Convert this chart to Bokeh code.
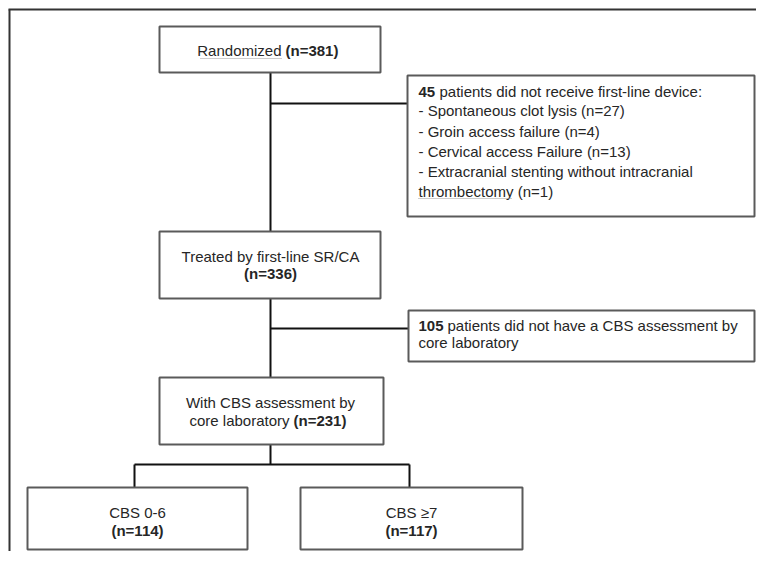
from bokeh.plotting import figure
from bokeh.models import Range1d
from bokeh.core.properties import value
from bokeh.embed import file_html
from bokeh.resources import INLINE

# ---- data (flow counts and labels) ----
randomized_label = "Randomized"
randomized_n = 381
not_received_n = 45
not_received_text = "patients did not receive first-line device:"
reason_labels = ["Spontaneous clot lysis", "Groin access failure",
                 "Cervical access Failure",
                 "Extracranial stenting without intracranial", "thrombectomy"]
reason_counts = [27, 4, 13, None, 1]
treated_label = "Treated by first-line SR/CA"
treated_n = 336
no_cbs_n = 105
no_cbs_lines = ["patients did not have a CBS assessment by", "core laboratory"]
cbs_label_lines = ["With CBS assessment by", "core laboratory"]
cbs_n = 231
group_labels = ["CBS 0-6", "CBS \u22657"]
group_n = [114, 117]

FONT = value("Liberation Sans")
FS = "15px"
TXT = "#262626"
BOX = "#5a5a5a"

p = figure(width=756, height=551, output_backend="svg", toolbar_location=None,
           x_range=Range1d(0, 756), y_range=Range1d(551, 0),
           x_axis_type=None, y_axis_type=None, min_border=0)
p.outline_line_color = None
p.background_fill_color = "white"
p.border_fill_color = "white"


def txt(x, y, s, align="left", bold=False, color=TXT):
    p.text(x=[x], y=[y], text=[s], text_align=align, text_baseline="middle",
           text_font=FONT, text_font_size=FS,
           text_font_style="bold" if bold else "normal", text_color=color)


def box(l, r, t, b):
    p.quad(left=[l], right=[r], top=[t], bottom=[b], fill_color="white",
           line_color=BOX, line_width=2)


# outer frame (top and left edges visible)
p.segment(x0=[8, 9], y0=[9, 9], x1=[756, 9], y1=[9, 551],
          line_color="#333333", line_width=2)

# connectors
p.segment(x0=[270, 270, 270, 270, 270, 134, 134, 409],
          y0=[72, 103, 298, 328, 444, 464, 464, 464],
          x1=[270, 407, 270, 408, 270, 409, 134, 409],
          y1=[231, 103, 377, 328, 464, 464, 487, 487],
          line_color="#111111", line_width=2)

# boxes
box(159, 380, 26, 72)
box(407, 754, 75, 216)
box(159, 380, 231, 298)
box(408, 754, 310, 361)
box(159, 383, 377, 444)
box(27, 247, 487, 549)
box(300, 522, 487, 549)

# Randomized
txt(281, 50, randomized_label, align="right")
txt(285, 50, f"(n={randomized_n})", bold=True)
p.line(x=[200, 281], y=[58, 58], line_color="#9a9a9a", line_width=1, line_dash="1 1")

# exclusion box 1
txt(418, 91, str(not_received_n), bold=True)
txt(439, 91, not_received_text)
ys = [110, 131, 151, 171, 191]
for i, (lab, c) in enumerate(zip(reason_labels, reason_counts)):
    if i < 4:
        s = f"- {lab}" + (f" (n={c})" if c is not None else "")
    else:
        s = f"{lab} (n={c})"
    txt(418, ys[i], s)
p.line(x=[418, 512], y=[198, 198], line_color="#9a9a9a", line_width=1, line_dash="1 1")

# treated
txt(270, 256, treated_label, align="center")
txt(270, 273, f"(n={treated_n})", align="center", bold=True)

# exclusion box 2
txt(418, 325, str(no_cbs_n), bold=True)
txt(447, 325, no_cbs_lines[0])
txt(418, 342, no_cbs_lines[1])

# with CBS
txt(270, 402, cbs_label_lines[0], align="center")
txt(289, 420, cbs_label_lines[1], align="right")
txt(293, 420, f"(n={cbs_n})", bold=True)

# groups
for cx, lab, n in zip([137, 411], group_labels, group_n):
    txt(cx, 512, lab, align="center")
    txt(cx, 530, f"(n={n})", align="center", bold=True)

open("out.html", "w").write(file_html(p, INLINE))
